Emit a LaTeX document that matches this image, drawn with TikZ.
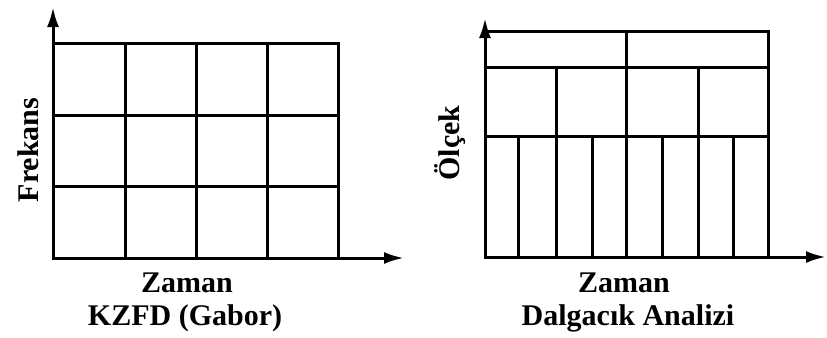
\documentclass[tikz,border=0pt]{standalone}
\usepackage{fontspec}
\setmainfont{Liberation Serif}
\usetikzlibrary{arrows.meta}

\begin{document}
\begin{tikzpicture}[x=0.5pt,y=-0.5pt,
  cell/.style={line width=1.5pt},
  axis/.style={line width=1.5pt,-{Latex[length=10pt,width=6pt]}},
  lbl/.style={font=\bfseries\fontsize{15}{17}\selectfont,inner sep=0pt}]
\useasboundingbox (0,0) rectangle (827,338);
% KZFD (Gabor)
\coordinate (go) at (53,258);
\coordinate (gy) at (53,7);
\coordinate (gx) at (404,258);
\draw[cell] (53,43) rectangle (338,258);
\foreach \x in {125,196,267} {
   \draw[cell] (\x,43) -- (\x,258);
}
\foreach \y in {115,186} {
   \draw[cell] (53,\y) -- (338,\y);
}
\draw[axis] (go) -- (gy);
\draw[axis] (go) -- (gx);
\node[lbl] (gtime) at (187,283) {Zaman};
\node[lbl] (gtitle) at (185,318) {KZFD (Gabor)};
\node[lbl,rotate=90] (gfreq) at (28,150) {Frekans};
% Dalgacik Analizi
\coordinate (wo) at (485,257);
\coordinate (wy) at (485,18);
\coordinate (wx) at (826,257);
\draw[cell] (485,31) rectangle (768,257);
\foreach \y in {67,136} {
   \draw[cell] (485,\y) -- (768,\y);
}
\foreach \x/\t in %
{626/31,556/67,698/67,518/136,592/136,662/136,733/136} {
   \draw[cell] (\x,\t) -- (\x,257);
}
\draw[axis] (wo) -- (wy);
\draw[axis] (wo) -- (wx);
\node[lbl] (wtime) at (624,283) {Zaman};
\node[lbl] (wtitle) at (628,318) {Dalgacık Analizi};
\node[lbl,rotate=90] (wscale) at (450,143) {Ölçek};
\end{tikzpicture}
\end{document}
